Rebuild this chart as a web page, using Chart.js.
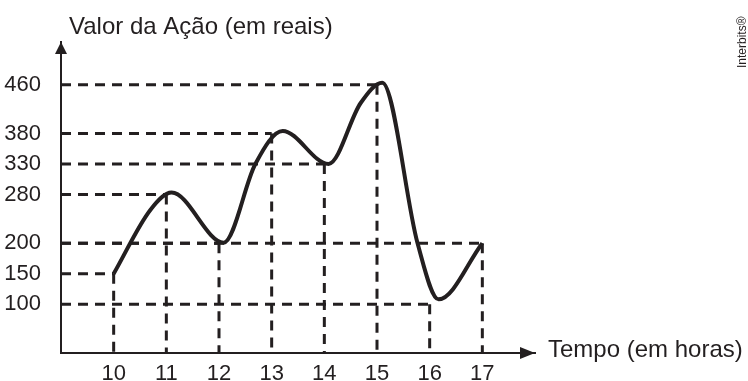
<!DOCTYPE html>
<html>
<head>
<meta charset="utf-8">
<script src="https://cdn.jsdelivr.net/npm/chart.js@4/dist/chart.umd.min.js"></script>
<style>
    html, body { margin: 0; padding: 0; background: #fff; }
    #wrap { width: 748px; height: 381px; }
</style>
</head>
<body>
<div id="wrap"><canvas id="acaoChart"></canvas></div>
<script>
// key points (hour, value) that get the dashed guide lines
const hours = [10, 11, 12, 13, 14, 15, 16, 17];
const values = [150, 280, 200, 380, 330, 460, 100, 200];
const yTickValues = [100, 150, 200, 280, 330, 380, 460];

// the smooth curve (turning points + a few in between)
const curveHours = [10, 10.7, 11.1, 12.09, 12.69, 13.21, 14.08, 14.69, 15.1, 15.77, 16.17, 17];
const curveValues = [150, 255, 283, 201, 330, 384, 330, 430, 463, 200, 108, 200];

const ink = '#231f20';
const font = '"Liberation Sans", Arial, sans-serif';
const X_MIN = 9, X_MAX = 18, Y_MIN = 20, Y_MAX = 530;

const datasets = [{
    data: curveHours.map((h, i) => ({ x: h, y: curveValues[i] })),
    borderColor: ink,
    borderWidth: 4,
    pointRadius: 0,
    cubicInterpolationMode: 'monotone',
    fill: false
}];

hours.forEach((h, i) => {
    const guide = {
        borderColor: ink,
        borderWidth: 3,
        borderDash: [10, 7],
        pointRadius: 0,
        fill: false
    };
    datasets.push(Object.assign({ data: [{ x: X_MIN, y: values[i] }, { x: h, y: values[i] }] }, guide));
    datasets.push(Object.assign({ data: [{ x: h, y: values[i] }, { x: h, y: Y_MIN }] }, guide));
});

const extras = {
    id: 'extras',
    afterDraw(chart) {
        const ctx = chart.ctx;
        const a = chart.chartArea;
        ctx.save();
        ctx.fillStyle = ink;
        // arrow heads
        ctx.beginPath();
        ctx.moveTo(a.left, a.top);
        ctx.lineTo(a.left - 6, a.top + 12);
        ctx.lineTo(a.left + 6, a.top + 12);
        ctx.closePath();
        ctx.fill();
        ctx.beginPath();
        ctx.moveTo(a.right, a.bottom);
        ctx.lineTo(a.right - 15, a.bottom - 6);
        ctx.lineTo(a.right - 15, a.bottom + 6);
        ctx.closePath();
        ctx.fill();
        // axis titles
        ctx.font = '24px ' + font;
        ctx.textBaseline = 'alphabetic';
        ctx.textAlign = 'left';
        ctx.fillText('Valor da Ação (em reais)', 69, 34);
        ctx.fillText('Tempo (em horas)', 548, 357);
        // side mark
        ctx.font = '12px ' + font;
        ctx.translate(746, 68);
        ctx.rotate(-Math.PI / 2);
        ctx.fillText('Interbits®', 0, 0);
        ctx.restore();
    }
};

new Chart(document.getElementById('acaoChart'), {
    type: 'line',
    data: { datasets: datasets },
    options: {
        responsive: true,
        maintainAspectRatio: false,
        animation: false,
        layout: { padding: { top: 42, right: 213, left: 0, bottom: 0 } },
        plugins: { legend: { display: false }, tooltip: { enabled: false } },
        scales: {
            x: {
                type: 'linear',
                min: X_MIN,
                max: X_MAX,
                grid: { display: false },
                border: { display: true, color: ink, width: 2 },
                ticks: { color: ink, font: { size: 22, family: font }, padding: 0 },
                afterBuildTicks: s => { s.ticks = hours.map(v => ({ value: v })); },
                afterFit: s => { s.height = 28; }
            },
            y: {
                type: 'linear',
                min: Y_MIN,
                max: Y_MAX,
                grid: { display: false },
                border: { display: true, color: ink, width: 2 },
                ticks: { color: ink, font: { size: 22, family: font }, padding: 12 },
                afterBuildTicks: s => { s.ticks = yTickValues.map(v => ({ value: v })); },
                afterFit: s => { s.width = 61; }
            }
        }
    },
    plugins: [extras]
});
</script>
</body>
</html>
